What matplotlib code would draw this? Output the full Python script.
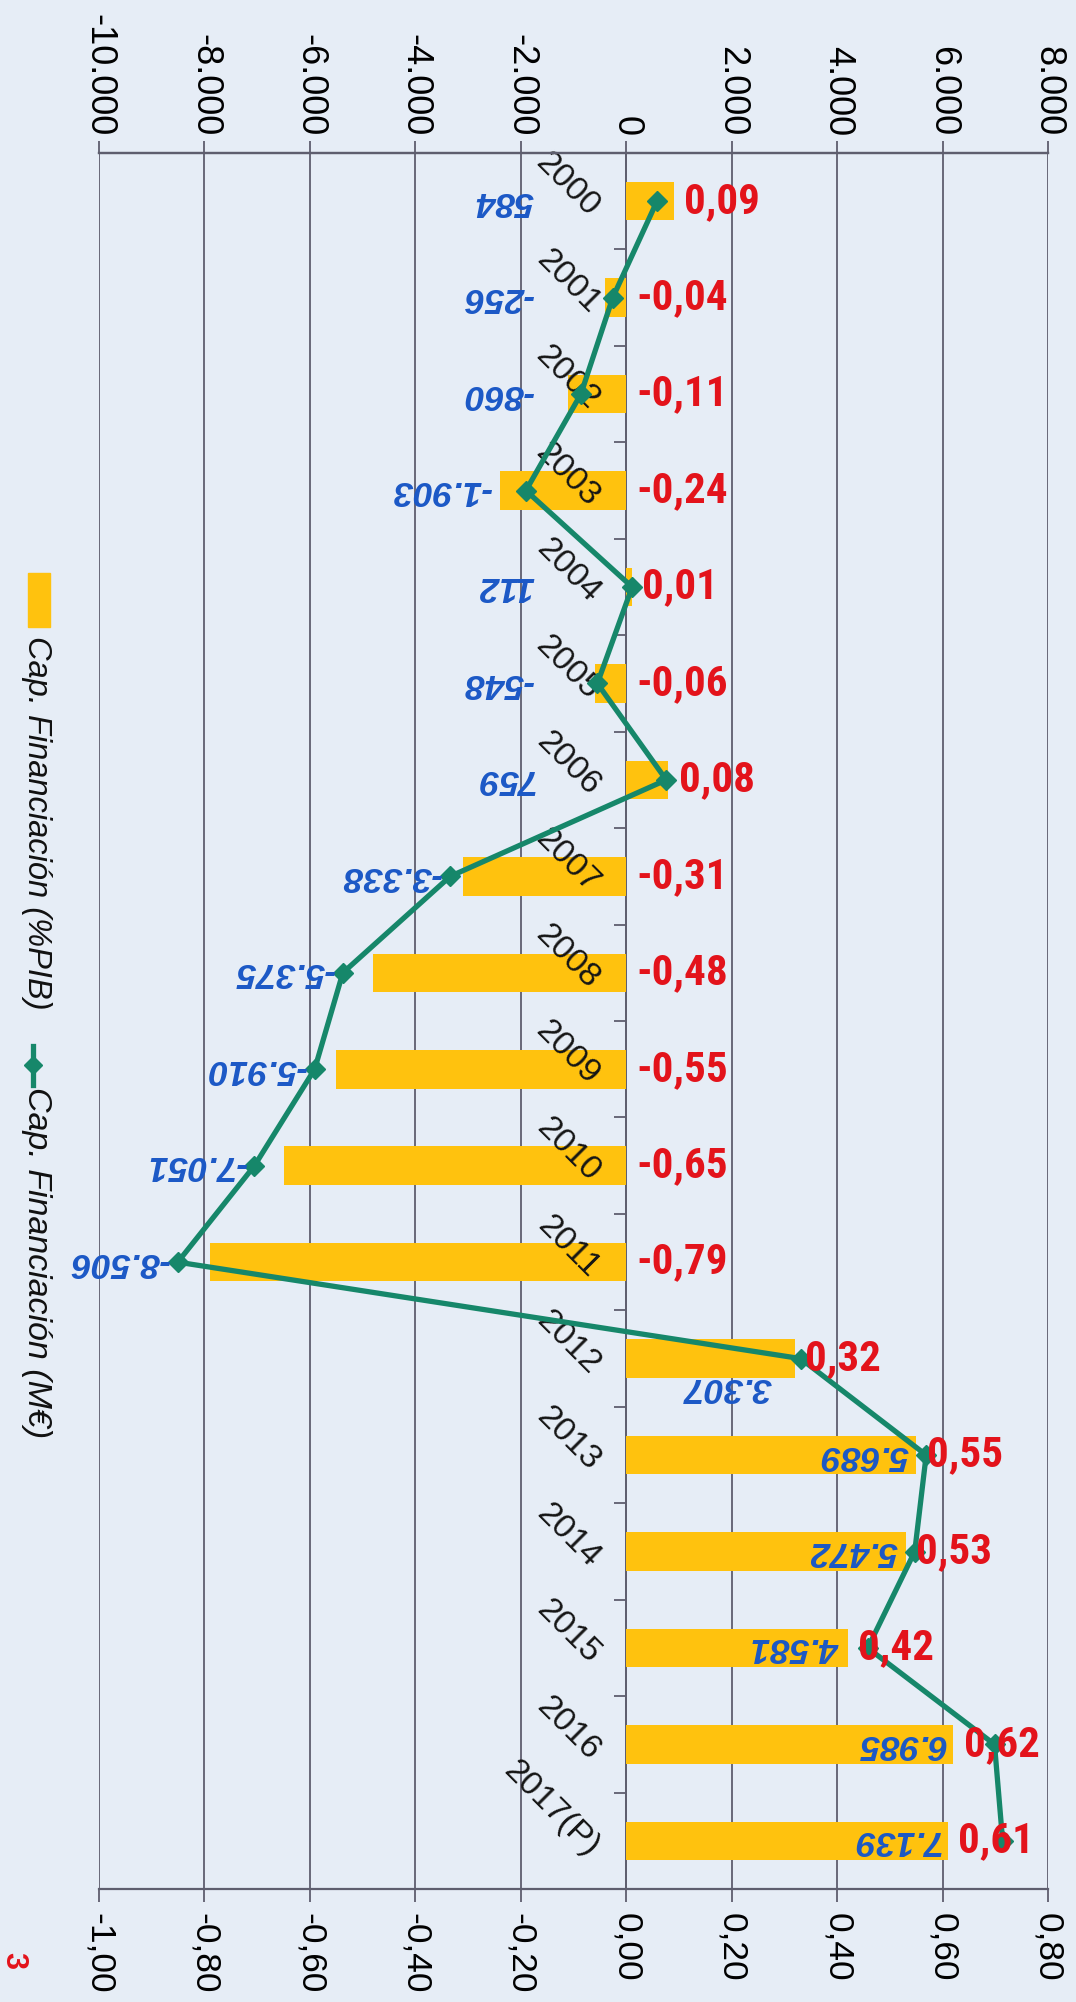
import numpy as np
import matplotlib
matplotlib.use('Agg')
import matplotlib.pyplot as plt
from matplotlib import font_manager
from matplotlib.patches import Rectangle
from matplotlib.lines import Line2D
from matplotlib.ticker import FuncFormatter, FixedLocator

years = ['2000', '2001', '2002', '2003', '2004', '2005', '2006', '2007', '2008',
         '2009', '2010', '2011', '2012', '2013', '2014', '2015', '2016', '2017(P)']
pct_pib = [0.09, -0.04, -0.11, -0.24, 0.01, -0.06, 0.08, -0.31, -0.48,
           -0.55, -0.65, -0.79, 0.32, 0.55, 0.53, 0.42, 0.62, 0.61]
meur = [584, -256, -860, -1903, 112, -548, 759, -3338, -5375,
        -5910, -7051, -8506, 3307, 5689, 5472, 4581, 6985, 7139]
pct_ticks = [-1.0, -0.8, -0.6, -0.4, -0.2, 0.0, 0.2, 0.4, 0.6, 0.8]
meur_ticks = [-10000, -8000, -6000, -4000, -2000, 0, 2000, 4000, 6000, 8000]

installed = {f.name for f in font_manager.fontManager.ttflist}
base = 'Liberation Sans' if 'Liberation Sans' in installed else 'DejaVu Sans'
narrow = None
for cand in ['Liberation Sans Narrow', 'Arial Narrow', 'Roboto Condensed', 'Open Sans Condensed']:
    if cand in installed:
        narrow = cand
        break
plt.rcParams['font.family'] = [base, 'DejaVu Sans']

if narrow:
    red_font, red_size = [narrow, base], 31
else:
    red_font, red_size = [base], 25.5

BAR = '#ffc20e'
LINE = '#16876a'
RED = '#e3131b'
BLUE = '#1b58c6'
GRID = '#5e5e6e'
BG = '#e6edf6'

fig = plt.figure(figsize=(10.76, 20.02), dpi=100, facecolor=BG)
ax = fig.add_axes([0.092, 0.0564, 0.974 - 0.092, 0.9236 - 0.0564])
ax.set_facecolor(BG)

# vertical gridlines behind the bars, axis (and year labels) above them
for t in pct_ticks:
    ax.axvline(t, color=GRID, lw=1.3, zorder=0.5)

y = np.arange(len(years))
ax.barh(y, pct_pib, height=0.4, color=BAR, zorder=1)
meur_scaled = np.array(meur) / 10000.0
ax.plot(meur_scaled, y, color=LINE, lw=3.8, marker='D', ms=10.5, zorder=4)

ax.set_xlim(-1.0, 0.8)
ax.set_ylim(len(years) - 0.5, -0.5)

# bottom axis: % PIB
ax.xaxis.set_major_locator(FixedLocator(pct_ticks))
ax.xaxis.set_major_formatter(FuncFormatter(lambda v, p: f'{round(v, 2) + 0:.2f}'.replace('.', ',')))
ax.tick_params(axis='x', direction='out', length=9, width=1.3, color=GRID,
               labelsize=25.5, pad=8, labelrotation=-90)

# top axis: M euros
sec = ax.secondary_xaxis('top', functions=(lambda v: v * 10000, lambda v: v / 10000))
sec.xaxis.set_major_locator(FixedLocator(meur_ticks))
sec.xaxis.set_major_formatter(FuncFormatter(lambda v, p: f'{int(round(v)):,}'.replace(',', '.')))
sec.tick_params(axis='x', direction='out', length=9, width=1.3, color=GRID,
                labelsize=26, pad=3, labelrotation=-90)
sec.spines['top'].set_color(GRID)
sec.spines['top'].set_linewidth(1.6)

for s in ['top', 'bottom']:
    ax.spines[s].set_color(GRID)
    ax.spines[s].set_linewidth(1.6)
ax.spines['right'].set_visible(False)
ax.spines['left'].set_position(('data', 0))
ax.spines['left'].set_color(GRID)
ax.spines['left'].set_linewidth(1.3)
ax.spines['left'].set_zorder(0.8)

# category axis at zero, years as rotated labels
ax.set_yticks(y)
ax.set_yticklabels(years)
ax.yaxis.set_minor_locator(FixedLocator(y[:-1] + 0.5))
ax.tick_params(axis='y', which='major', length=0, pad=15, labelsize=24.5)
ax.tick_params(axis='y', which='minor', length=9, width=1.3, color=GRID, direction='out')
for lbl in ax.get_yticklabels():
    lbl.set_rotation(-45)
    lbl.set_rotation_mode('anchor')
    lbl.set_ha('right')
    lbl.set_va('top')
    lbl.set_color('#151515')

# red labels (% PIB)
for yi, v in zip(y, pct_pib):
    ax.text(max(v, 0) + 0.02, yi, f'{v:.2f}'.replace('.', ','), color=RED,
            fontsize=red_size, fontweight='bold', family=red_font,
            ha='left', va='center', zorder=5)

# blue labels (M euros), upside down
for yi, m, v in zip(y, meur, pct_pib):
    ms = m / 10000.0
    cap = 10 if ms > 0.2 else -0.16
    end = min(ms, v, cap) - 0.015
    if 0.2 < ms < 0.4:
        end, yi = end - 0.03, yi + 0.3
    ax.text(end, yi, f'{m:,}'.replace(',', '.'), color=BLUE,
            fontsize=25.5, fontweight='bold', style='italic', rotation=180,
            ha='right', va='center', zorder=5)

# legend, drawn by hand because it is rotated
W, H = 1076.0, 2002.0
fig.patches.append(Rectangle((28 / W, 1 - 627 / H), 22 / W, 54 / H,
                             transform=fig.transFigure, color=BAR))
fig.text(36 / W, 1 - 636 / H, 'Cap. Financiación (%PIB)', rotation=-90,
         ha='center', va='top', fontsize=23.5, style='italic', color='#111111')
fig.lines.append(Line2D([33 / W, 33 / W], [1 - 1046 / H, 1 - 1085 / H],
                        transform=fig.transFigure, color=LINE, lw=3.8))
fig.lines.append(Line2D([33 / W], [1 - 1065 / H], transform=fig.transFigure,
                        color=LINE, marker='D', ms=9.5, lw=0))
fig.text(36 / W, 1 - 1087 / H, 'Cap. Financiación (M€)', rotation=-90,
         ha='center', va='top', fontsize=24.5, style='italic', color='#111111')

fig.text(13 / W, 1 - 1960 / H, '3', rotation=-90, ha='center', va='center',
         fontsize=22, fontweight='bold', color=RED)

fig.savefig('out.png', dpi=100, facecolor=BG)
